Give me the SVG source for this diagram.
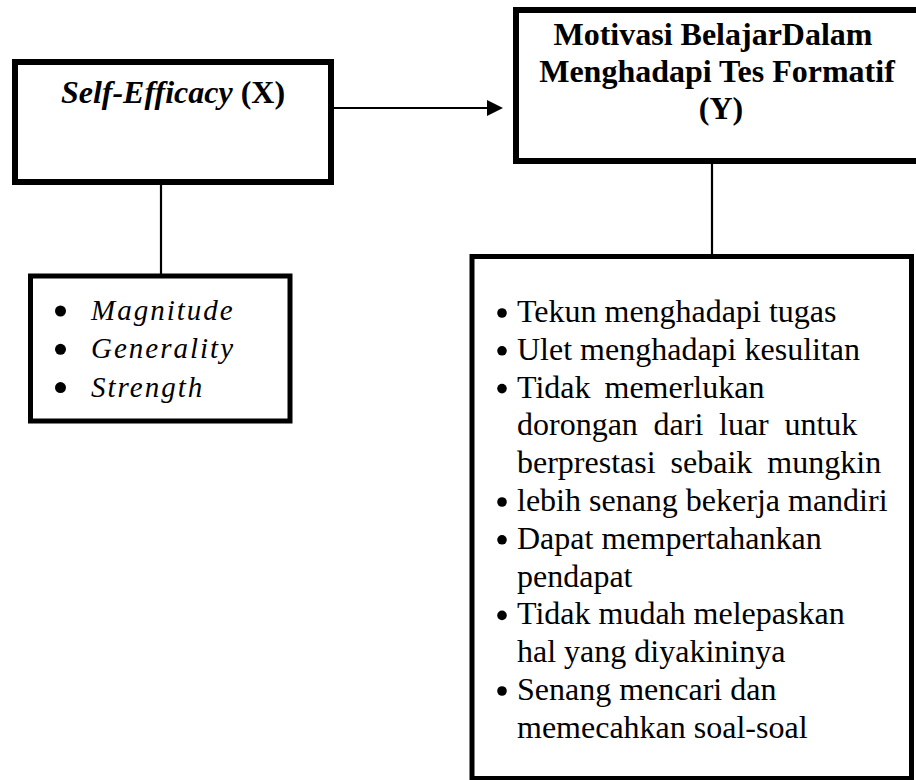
<svg xmlns="http://www.w3.org/2000/svg" width="916" height="780" viewBox="0 0 916 780">
<style>
.box{fill:#fff;stroke:#000;stroke-width:6}
.sbox{fill:#fff;stroke:#000;stroke-width:5}
.ln{stroke:#000;stroke-width:2.2;fill:none}
.t{font-family:"Liberation Serif","Times New Roman",serif;fill:#000}
.title{font-size:32px;font-weight:bold}
.it{font-size:29px;font-style:italic;letter-spacing:2px}
.li{font-size:32px}
</style>
<rect width="916" height="780" fill="#fff"/>
<g id="connectors">
<line class="ln" x1="331" y1="108" x2="489" y2="108"/>
<polygon points="487,100 503,108 487,116" fill="#000"/>
<line class="ln" x1="161" y1="185" x2="161" y2="274"/>
<line class="ln" x1="712" y1="163" x2="712" y2="254"/>
</g>
<g id="node-x">
<rect class="box" x="15" y="62" width="316" height="120"/>
<text class="t title" x="173" y="103" text-anchor="middle"><tspan font-style="italic">Self-Efficacy</tspan> (X)</text>
</g>
<g id="node-y">
<rect class="box" x="516" y="10" width="420" height="151"/>
<text class="t title" text-anchor="middle">
<tspan x="717" y="45">Motivasi BelajarDalam</tspan>
<tspan x="721" y="82">Menghadapi Tes Formatif</tspan>
<tspan x="721" y="119">(Y)</tspan>
</text>
</g>
<g id="node-x-indicators">
<rect class="sbox" x="30.5" y="276" width="259.5" height="145"/>
<circle cx="60.5" cy="311" r="5.5"/>
<circle cx="60.5" cy="349.3" r="5.5"/>
<circle cx="60.5" cy="387.6" r="5.5"/>
<text class="t it" x="91" y="320">Magnitude</text>
<text class="t it" x="91" y="358.3">Generality</text>
<text class="t it" x="91" y="396.6">Strength</text>
</g>
<g id="node-y-indicators">
<rect class="sbox" x="472" y="256.5" width="439.5" height="522"/>
<g fill="#000">
<circle cx="502" cy="313" r="4.8"/>
<circle cx="502" cy="350.8" r="4.8"/>
<circle cx="502" cy="388.6" r="4.8"/>
<circle cx="502" cy="502" r="4.8"/>
<circle cx="502" cy="539.8" r="4.8"/>
<circle cx="502" cy="615.4" r="4.8"/>
<circle cx="502" cy="691" r="4.8"/>
</g>
<text class="t li">
<tspan x="517" y="322">Tekun menghadapi tugas</tspan>
<tspan x="517" y="359.8">Ulet menghadapi kesulitan</tspan>
<tspan x="517" y="397.6" word-spacing="6">Tidak memerlukan</tspan>
<tspan x="517" y="435.4" word-spacing="7.7">dorongan dari luar untuk</tspan>
<tspan x="517" y="473.2" word-spacing="7">berprestasi sebaik mungkin</tspan>
<tspan x="517" y="511">lebih senang bekerja mandiri</tspan>
<tspan x="517" y="548.8">Dapat mempertahankan</tspan>
<tspan x="517" y="586.6">pendapat</tspan>
<tspan x="517" y="624.4">Tidak mudah melepaskan</tspan>
<tspan x="517" y="662.2">hal yang diyakininya</tspan>
<tspan x="517" y="700">Senang mencari dan</tspan>
<tspan x="517" y="737.8">memecahkan soal-soal</tspan>
</text>
</g>
</svg>
